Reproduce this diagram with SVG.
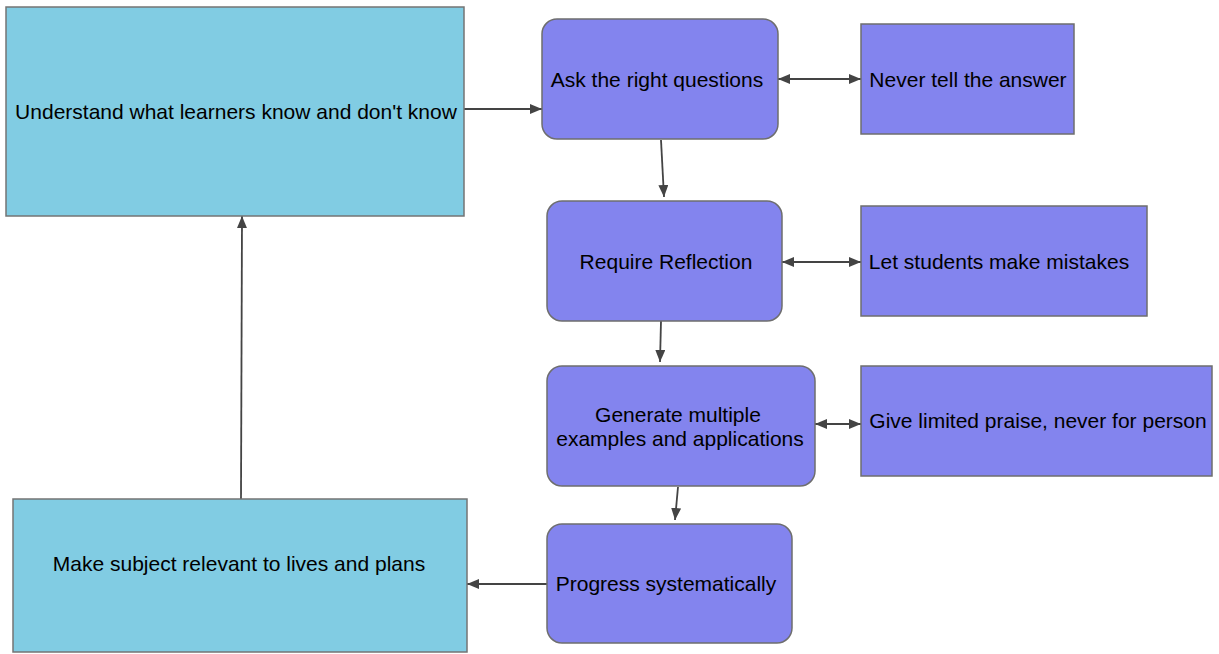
<svg xmlns="http://www.w3.org/2000/svg" width="1219" height="654" viewBox="0 0 1219 654">
<style>
.blue{fill:#81CCE3;stroke:#747474;stroke-width:1.5}
.purp{fill:#8384EE;stroke:#6E6E6E;stroke-width:1.5}
.t{font-family:"Liberation Sans",Arial,sans-serif;font-size:21px;fill:#000;text-anchor:middle}
.c{stroke:#444;stroke-width:1.8;fill:none}
</style>
<defs>
<marker id="ah" viewBox="0 0 12 10" refX="12" refY="5" markerWidth="12" markerHeight="10" markerUnits="userSpaceOnUse" orient="auto-start-reverse">
<path d="M0,0 L12,5 L0,10 Z" fill="#444"/>
</marker>
</defs>
<rect width="1219" height="654" fill="#fff"/>
<g id="connectors">
<path class="c" d="M464,109 L542,109" marker-end="url(#ah)"/>
<path class="c" d="M661,140 L664,197" marker-end="url(#ah)"/>
<path class="c" d="M778,79 L861,79" marker-start="url(#ah)" marker-end="url(#ah)"/>
<path class="c" d="M782,262 L861,262" marker-start="url(#ah)" marker-end="url(#ah)"/>
<path class="c" d="M661,321 L660,362" marker-end="url(#ah)"/>
<path class="c" d="M815,424 L861,424" marker-start="url(#ah)" marker-end="url(#ah)"/>
<path class="c" d="M678,487 L675,520" marker-end="url(#ah)"/>
<path class="c" d="M547,584 L467,584" marker-end="url(#ah)"/>
<path class="c" d="M241,499 L242,216" marker-end="url(#ah)"/>
</g>
<g id="understand">
<rect class="blue" x="6" y="7" width="458" height="209"/>
<text class="t" x="236" y="119">Understand what learners know and don't know</text>
</g>
<g id="ask">
<rect class="purp" x="542" y="19" width="236" height="120" rx="15"/>
<text class="t" x="657" y="87">Ask the right questions</text>
</g>
<g id="never">
<rect class="purp" x="861" y="24" width="213" height="110"/>
<text class="t" x="968" y="87">Never tell the answer</text>
</g>
<g id="require">
<rect class="purp" x="547" y="201" width="235" height="120" rx="15"/>
<text class="t" x="666" y="269">Require Reflection</text>
</g>
<g id="mistakes">
<rect class="purp" x="861" y="206" width="286" height="110"/>
<text class="t" x="999" y="269">Let students make mistakes</text>
</g>
<g id="generate">
<rect class="purp" x="547" y="366" width="268" height="120" rx="15"/>
<text class="t" x="678" y="422">Generate multiple</text>
<text class="t" x="680" y="446">examples and applications</text>
</g>
<g id="praise">
<rect class="purp" x="861" y="366" width="351" height="110"/>
<text class="t" x="1038" y="428">Give limited praise, never for person</text>
</g>
<g id="progress">
<rect class="purp" x="547" y="524" width="245" height="119" rx="15"/>
<text class="t" x="666" y="591">Progress systematically</text>
</g>
<g id="relevant">
<rect class="blue" x="13" y="499" width="454" height="153"/>
<text class="t" x="239" y="571">Make subject relevant to lives and plans</text>
</g>
</svg>
